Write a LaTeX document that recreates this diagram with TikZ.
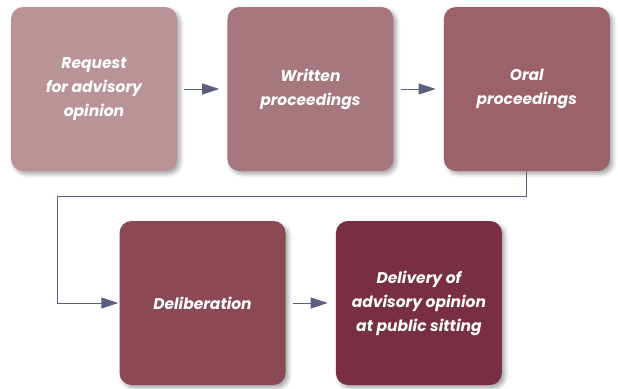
\documentclass[tikz,border=0pt]{standalone}
\usepackage{fontspec}
\setsansfont{Poppins}
\usetikzlibrary{positioning, calc, arrows.meta, shadows.blur}

\definecolor{stagecolor1}{HTML}{B99398}
\definecolor{stagecolor2}{HTML}{A6777F}
\definecolor{stagecolor3}{HTML}{9B626C}
\definecolor{stagecolor4}{HTML}{8B4955}
\definecolor{stagecolor5}{HTML}{782F42}
\definecolor{ptrcolor}{HTML}{5A5F7D}

\begin{document}
\begin{tikzpicture}[x=1pt, y=1pt]
  \newcommand\stagespacing{50pt}
  \newcommand\rowspacing{50pt}
  \newcommand\ptrgapstart{7pt}
  \newcommand\ptrgapend{8pt}
  \newcommand\loopdrop{25}
  \newcommand\loopleft{62}

  \tikzset{stagebox/.style={rounded corners=12pt, minimum width=166pt, minimum height=164pt, inner sep=0pt, text=white, align=center, font=\sffamily\bfseries\itshape\fontsize{15.5}{24}\selectfont, blur shadow={shadow xshift=3pt, shadow yshift=-3pt, shadow blur radius=4pt, shadow opacity=35}}}
  \tikzset{ptr/.style={-{Triangle[length=17pt, width=11pt]}, draw=ptrcolor, line width=0.9pt}}
  \tikzset{nextptr/.style={ptr, shorten <=\ptrgapstart, shorten >=\ptrgapend}}

  \useasboundingbox (0,0) rectangle (618,-388);

  % first row
  \node[stagebox, fill=stagecolor1] at (94,-89) (stage1) {Request\\for advisory\\opinion};
  \foreach \txt/\idx [count=\prev from 1] in {{Written\\proceedings}/2, {Oral\\proceedings}/3}{
    \node[stagebox, fill=stagecolor\idx, right=\stagespacing of stage\prev] (stage\idx) {\txt};
    \draw[nextptr] (stage\prev) -- (stage\idx);
  }

  % second row
  \node[stagebox, fill=stagecolor4] at (202.5,-303) (stage4) {Deliberation};
  \node[stagebox, fill=stagecolor5, right=\stagespacing of stage4] (stage5) {Delivery of\\advisory opinion\\at public sitting};
  \draw[nextptr] (stage4) -- (stage5);

  % back to the start of the second row
  \draw[ptr, shorten >=1pt] (stage3.south) -- ++(0,-\loopdrop) -| ([xshift=-\loopleft pt]stage4.west) -- (stage4.west);
\end{tikzpicture}
\end{document}
